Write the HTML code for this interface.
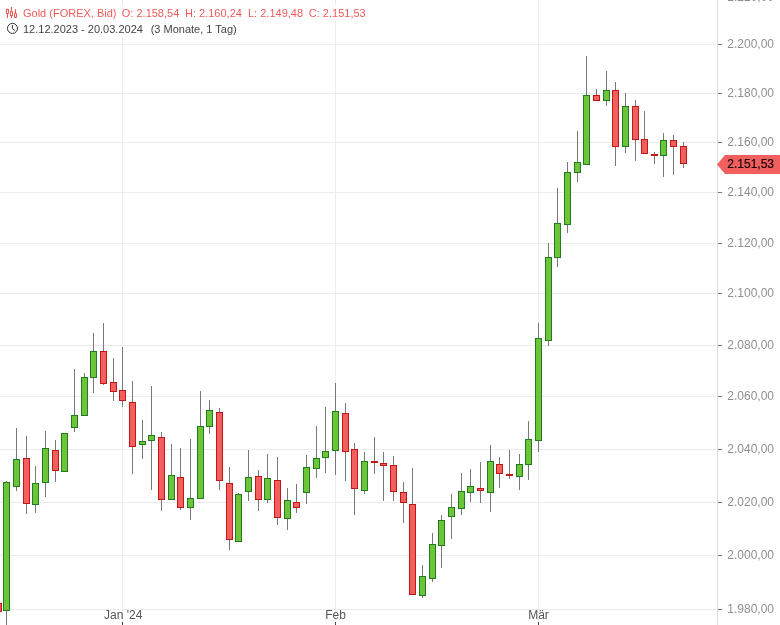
<!DOCTYPE html>
<html><head><meta charset="utf-8"><title>Gold (FOREX, Bid)</title>
<style>
html,body{margin:0;padding:0;background:#fff;}
body{width:780px;height:625px;position:relative;overflow:hidden;font-family:"Liberation Sans",Arial,sans-serif;}
.yl{position:absolute;left:727.3px;font-size:12px;line-height:14px;height:14px;color:#8f8f8f;white-space:nowrap;}
.xl{position:absolute;top:608px;width:81px;text-align:center;font-size:12px;line-height:14px;color:#555;white-space:nowrap;}
.t1{position:absolute;top:7px;font-size:11px;line-height:13px;color:#f25a5a;white-space:pre;}
.t2{position:absolute;top:23px;font-size:11px;line-height:13px;color:#444;white-space:pre;}
.tag{position:absolute;left:727.3px;top:157px;font-size:12px;line-height:14px;color:#1a0808;-webkit-text-stroke:0.22px #1a0808;white-space:nowrap;}
</style></head><body>
<svg width="780" height="625" viewBox="0 0 780 625" shape-rendering="crispEdges" style="position:absolute;left:0;top:0">
<rect x="0" y="44" width="717" height="1" fill="#ececec"/>
<rect x="0" y="93" width="717" height="1" fill="#ececec"/>
<rect x="0" y="142" width="717" height="1" fill="#ececec"/>
<rect x="0" y="192" width="717" height="1" fill="#ececec"/>
<rect x="0" y="243" width="717" height="1" fill="#ececec"/>
<rect x="0" y="293" width="717" height="1" fill="#ececec"/>
<rect x="0" y="345" width="717" height="1" fill="#ececec"/>
<rect x="0" y="396" width="717" height="1" fill="#ececec"/>
<rect x="0" y="449" width="717" height="1" fill="#ececec"/>
<rect x="0" y="502" width="717" height="1" fill="#ececec"/>
<rect x="0" y="555" width="717" height="1" fill="#ececec"/>
<rect x="0" y="609" width="717" height="1" fill="#ececec"/>
<rect x="122" y="0" width="1" height="622" fill="#ececec"/>
<rect x="335" y="0" width="1" height="622" fill="#ececec"/>
<rect x="538" y="0" width="1" height="622" fill="#ececec"/>
<rect x="717" y="0" width="1" height="625" fill="#dcdcdc"/>
<rect x="718" y="44" width="4" height="1" fill="#777"/>
<rect x="718" y="93" width="4" height="1" fill="#777"/>
<rect x="718" y="142" width="4" height="1" fill="#777"/>
<rect x="718" y="192" width="4" height="1" fill="#777"/>
<rect x="718" y="243" width="4" height="1" fill="#777"/>
<rect x="718" y="293" width="4" height="1" fill="#777"/>
<rect x="718" y="345" width="4" height="1" fill="#777"/>
<rect x="718" y="396" width="4" height="1" fill="#777"/>
<rect x="718" y="449" width="4" height="1" fill="#777"/>
<rect x="718" y="502" width="4" height="1" fill="#777"/>
<rect x="718" y="555" width="4" height="1" fill="#777"/>
<rect x="718" y="609" width="4" height="1" fill="#777"/>
<rect x="122" y="622" width="1" height="3" fill="#444"/>
<rect x="335" y="622" width="1" height="3" fill="#444"/>
<rect x="538" y="622" width="1" height="3" fill="#444"/>
<rect x="-2" y="603" width="1" height="9" fill="#787878"/>
<rect x="-5" y="603" width="7" height="9" fill="#c51616"/>
<rect x="-4" y="604" width="5" height="7" fill="#f15f5f"/>
<rect x="6" y="481" width="1" height="144" fill="#787878"/>
<rect x="3" y="482" width="7" height="129" fill="#1f7d1f"/>
<rect x="4" y="483" width="5" height="127" fill="#6dc438"/>
<rect x="16" y="428" width="1" height="63" fill="#787878"/>
<rect x="13" y="459" width="7" height="28" fill="#1f7d1f"/>
<rect x="14" y="460" width="5" height="26" fill="#6dc438"/>
<rect x="26" y="436" width="1" height="78" fill="#787878"/>
<rect x="23" y="458" width="7" height="46" fill="#c51616"/>
<rect x="24" y="459" width="5" height="44" fill="#f15f5f"/>
<rect x="35" y="466" width="1" height="47" fill="#787878"/>
<rect x="32" y="483" width="7" height="22" fill="#1f7d1f"/>
<rect x="33" y="484" width="5" height="20" fill="#6dc438"/>
<rect x="45" y="431" width="1" height="66" fill="#787878"/>
<rect x="42" y="448" width="7" height="35" fill="#1f7d1f"/>
<rect x="43" y="449" width="5" height="33" fill="#6dc438"/>
<rect x="55" y="440" width="1" height="42" fill="#787878"/>
<rect x="52" y="450" width="7" height="21" fill="#c51616"/>
<rect x="53" y="451" width="5" height="19" fill="#f15f5f"/>
<rect x="64" y="433" width="1" height="39" fill="#787878"/>
<rect x="61" y="433" width="7" height="39" fill="#1f7d1f"/>
<rect x="62" y="434" width="5" height="37" fill="#6dc438"/>
<rect x="74" y="369" width="1" height="63" fill="#787878"/>
<rect x="71" y="415" width="7" height="13" fill="#1f7d1f"/>
<rect x="72" y="416" width="5" height="11" fill="#6dc438"/>
<rect x="84" y="373" width="1" height="43" fill="#787878"/>
<rect x="81" y="377" width="7" height="39" fill="#1f7d1f"/>
<rect x="82" y="378" width="5" height="37" fill="#6dc438"/>
<rect x="93" y="333" width="1" height="60" fill="#787878"/>
<rect x="90" y="351" width="7" height="27" fill="#1f7d1f"/>
<rect x="91" y="352" width="5" height="25" fill="#6dc438"/>
<rect x="103" y="323" width="1" height="62" fill="#787878"/>
<rect x="100" y="351" width="7" height="33" fill="#c51616"/>
<rect x="101" y="352" width="5" height="31" fill="#f15f5f"/>
<rect x="113" y="358" width="1" height="43" fill="#787878"/>
<rect x="110" y="382" width="7" height="10" fill="#c51616"/>
<rect x="111" y="383" width="5" height="8" fill="#f15f5f"/>
<rect x="122" y="347" width="1" height="60" fill="#787878"/>
<rect x="119" y="390" width="7" height="11" fill="#c51616"/>
<rect x="120" y="391" width="5" height="9" fill="#f15f5f"/>
<rect x="132" y="381" width="1" height="93" fill="#787878"/>
<rect x="129" y="402" width="7" height="45" fill="#c51616"/>
<rect x="130" y="403" width="5" height="43" fill="#f15f5f"/>
<rect x="142" y="420" width="1" height="39" fill="#787878"/>
<rect x="139" y="441" width="7" height="4" fill="#1f7d1f"/>
<rect x="140" y="442" width="5" height="2" fill="#6dc438"/>
<rect x="151" y="386" width="1" height="104" fill="#787878"/>
<rect x="148" y="435" width="7" height="6" fill="#1f7d1f"/>
<rect x="149" y="436" width="5" height="4" fill="#6dc438"/>
<rect x="161" y="432" width="1" height="79" fill="#787878"/>
<rect x="158" y="437" width="7" height="63" fill="#c51616"/>
<rect x="159" y="438" width="5" height="61" fill="#f15f5f"/>
<rect x="171" y="444" width="1" height="56" fill="#787878"/>
<rect x="168" y="475" width="7" height="25" fill="#1f7d1f"/>
<rect x="169" y="476" width="5" height="23" fill="#6dc438"/>
<rect x="180" y="448" width="1" height="62" fill="#787878"/>
<rect x="177" y="477" width="7" height="31" fill="#c51616"/>
<rect x="178" y="478" width="5" height="29" fill="#f15f5f"/>
<rect x="190" y="439" width="1" height="81" fill="#787878"/>
<rect x="187" y="498" width="7" height="10" fill="#1f7d1f"/>
<rect x="188" y="499" width="5" height="8" fill="#6dc438"/>
<rect x="200" y="391" width="1" height="108" fill="#787878"/>
<rect x="197" y="426" width="7" height="73" fill="#1f7d1f"/>
<rect x="198" y="427" width="5" height="71" fill="#6dc438"/>
<rect x="209" y="400" width="1" height="34" fill="#787878"/>
<rect x="206" y="410" width="7" height="17" fill="#1f7d1f"/>
<rect x="207" y="411" width="5" height="15" fill="#6dc438"/>
<rect x="219" y="408" width="1" height="82" fill="#787878"/>
<rect x="216" y="412" width="7" height="69" fill="#c51616"/>
<rect x="217" y="413" width="5" height="67" fill="#f15f5f"/>
<rect x="229" y="467" width="1" height="83" fill="#787878"/>
<rect x="226" y="483" width="7" height="57" fill="#c51616"/>
<rect x="227" y="484" width="5" height="55" fill="#f15f5f"/>
<rect x="238" y="493" width="1" height="49" fill="#787878"/>
<rect x="235" y="494" width="7" height="48" fill="#1f7d1f"/>
<rect x="236" y="495" width="5" height="46" fill="#6dc438"/>
<rect x="248" y="450" width="1" height="51" fill="#787878"/>
<rect x="245" y="477" width="7" height="15" fill="#1f7d1f"/>
<rect x="246" y="478" width="5" height="13" fill="#6dc438"/>
<rect x="258" y="470" width="1" height="41" fill="#787878"/>
<rect x="255" y="476" width="7" height="24" fill="#c51616"/>
<rect x="256" y="477" width="5" height="22" fill="#f15f5f"/>
<rect x="267" y="454" width="1" height="49" fill="#787878"/>
<rect x="264" y="478" width="7" height="22" fill="#1f7d1f"/>
<rect x="265" y="479" width="5" height="20" fill="#6dc438"/>
<rect x="277" y="457" width="1" height="68" fill="#787878"/>
<rect x="274" y="480" width="7" height="38" fill="#c51616"/>
<rect x="275" y="481" width="5" height="36" fill="#f15f5f"/>
<rect x="287" y="488" width="1" height="42" fill="#787878"/>
<rect x="284" y="500" width="7" height="19" fill="#1f7d1f"/>
<rect x="285" y="501" width="5" height="17" fill="#6dc438"/>
<rect x="296" y="484" width="1" height="29" fill="#787878"/>
<rect x="293" y="502" width="7" height="6" fill="#c51616"/>
<rect x="294" y="503" width="5" height="4" fill="#f15f5f"/>
<rect x="306" y="455" width="1" height="49" fill="#787878"/>
<rect x="303" y="467" width="7" height="26" fill="#1f7d1f"/>
<rect x="304" y="468" width="5" height="24" fill="#6dc438"/>
<rect x="316" y="426" width="1" height="52" fill="#787878"/>
<rect x="313" y="458" width="7" height="11" fill="#1f7d1f"/>
<rect x="314" y="459" width="5" height="9" fill="#6dc438"/>
<rect x="325" y="407" width="1" height="66" fill="#787878"/>
<rect x="322" y="451" width="7" height="7" fill="#1f7d1f"/>
<rect x="323" y="452" width="5" height="5" fill="#6dc438"/>
<rect x="335" y="383" width="1" height="92" fill="#787878"/>
<rect x="332" y="411" width="7" height="40" fill="#1f7d1f"/>
<rect x="333" y="412" width="5" height="38" fill="#6dc438"/>
<rect x="345" y="403" width="1" height="78" fill="#787878"/>
<rect x="342" y="413" width="7" height="39" fill="#c51616"/>
<rect x="343" y="414" width="5" height="37" fill="#f15f5f"/>
<rect x="354" y="443" width="1" height="72" fill="#787878"/>
<rect x="351" y="449" width="7" height="40" fill="#c51616"/>
<rect x="352" y="450" width="5" height="38" fill="#f15f5f"/>
<rect x="364" y="452" width="1" height="42" fill="#787878"/>
<rect x="361" y="461" width="7" height="30" fill="#1f7d1f"/>
<rect x="362" y="462" width="5" height="28" fill="#6dc438"/>
<rect x="374" y="437" width="1" height="37" fill="#787878"/>
<rect x="371" y="461" width="7" height="2" fill="#c51616"/>
<rect x="383" y="452" width="1" height="49" fill="#787878"/>
<rect x="380" y="463" width="7" height="3" fill="#c51616"/>
<rect x="381" y="464" width="5" height="1" fill="#f15f5f"/>
<rect x="393" y="456" width="1" height="45" fill="#787878"/>
<rect x="390" y="465" width="7" height="27" fill="#c51616"/>
<rect x="391" y="466" width="5" height="25" fill="#f15f5f"/>
<rect x="403" y="482" width="1" height="41" fill="#787878"/>
<rect x="400" y="492" width="7" height="11" fill="#c51616"/>
<rect x="401" y="493" width="5" height="9" fill="#f15f5f"/>
<rect x="412" y="468" width="1" height="127" fill="#787878"/>
<rect x="409" y="504" width="7" height="91" fill="#c51616"/>
<rect x="410" y="505" width="5" height="89" fill="#f15f5f"/>
<rect x="422" y="565" width="1" height="33" fill="#787878"/>
<rect x="419" y="576" width="7" height="20" fill="#1f7d1f"/>
<rect x="420" y="577" width="5" height="18" fill="#6dc438"/>
<rect x="432" y="533" width="1" height="49" fill="#787878"/>
<rect x="429" y="544" width="7" height="35" fill="#1f7d1f"/>
<rect x="430" y="545" width="5" height="33" fill="#6dc438"/>
<rect x="441" y="515" width="1" height="53" fill="#787878"/>
<rect x="438" y="520" width="7" height="26" fill="#1f7d1f"/>
<rect x="439" y="521" width="5" height="24" fill="#6dc438"/>
<rect x="451" y="494" width="1" height="45" fill="#787878"/>
<rect x="448" y="507" width="7" height="10" fill="#1f7d1f"/>
<rect x="449" y="508" width="5" height="8" fill="#6dc438"/>
<rect x="461" y="473" width="1" height="42" fill="#787878"/>
<rect x="458" y="491" width="7" height="18" fill="#1f7d1f"/>
<rect x="459" y="492" width="5" height="16" fill="#6dc438"/>
<rect x="470" y="469" width="1" height="33" fill="#787878"/>
<rect x="467" y="486" width="7" height="7" fill="#1f7d1f"/>
<rect x="468" y="487" width="5" height="5" fill="#6dc438"/>
<rect x="480" y="462" width="1" height="41" fill="#787878"/>
<rect x="477" y="488" width="7" height="3" fill="#c51616"/>
<rect x="478" y="489" width="5" height="1" fill="#f15f5f"/>
<rect x="490" y="445" width="1" height="67" fill="#787878"/>
<rect x="487" y="461" width="7" height="32" fill="#1f7d1f"/>
<rect x="488" y="462" width="5" height="30" fill="#6dc438"/>
<rect x="499" y="457" width="1" height="31" fill="#787878"/>
<rect x="496" y="464" width="7" height="10" fill="#c51616"/>
<rect x="497" y="465" width="5" height="8" fill="#f15f5f"/>
<rect x="509" y="450" width="1" height="29" fill="#787878"/>
<rect x="506" y="474" width="7" height="2" fill="#c51616"/>
<rect x="519" y="454" width="1" height="36" fill="#787878"/>
<rect x="516" y="464" width="7" height="13" fill="#1f7d1f"/>
<rect x="517" y="465" width="5" height="11" fill="#6dc438"/>
<rect x="528" y="421" width="1" height="59" fill="#787878"/>
<rect x="525" y="439" width="7" height="26" fill="#1f7d1f"/>
<rect x="526" y="440" width="5" height="24" fill="#6dc438"/>
<rect x="538" y="323" width="1" height="129" fill="#787878"/>
<rect x="535" y="338" width="7" height="103" fill="#1f7d1f"/>
<rect x="536" y="339" width="5" height="101" fill="#6dc438"/>
<rect x="548" y="243" width="1" height="103" fill="#787878"/>
<rect x="545" y="257" width="7" height="84" fill="#1f7d1f"/>
<rect x="546" y="258" width="5" height="82" fill="#6dc438"/>
<rect x="557" y="188" width="1" height="79" fill="#787878"/>
<rect x="554" y="223" width="7" height="35" fill="#1f7d1f"/>
<rect x="555" y="224" width="5" height="33" fill="#6dc438"/>
<rect x="567" y="162" width="1" height="71" fill="#787878"/>
<rect x="564" y="172" width="7" height="53" fill="#1f7d1f"/>
<rect x="565" y="173" width="5" height="51" fill="#6dc438"/>
<rect x="577" y="131" width="1" height="51" fill="#787878"/>
<rect x="574" y="162" width="7" height="11" fill="#1f7d1f"/>
<rect x="575" y="163" width="5" height="9" fill="#6dc438"/>
<rect x="586" y="56" width="1" height="109" fill="#787878"/>
<rect x="583" y="95" width="7" height="70" fill="#1f7d1f"/>
<rect x="584" y="96" width="5" height="68" fill="#6dc438"/>
<rect x="596" y="89" width="1" height="12" fill="#787878"/>
<rect x="593" y="95" width="7" height="6" fill="#c51616"/>
<rect x="594" y="96" width="5" height="4" fill="#f15f5f"/>
<rect x="606" y="71" width="1" height="35" fill="#787878"/>
<rect x="603" y="90" width="7" height="11" fill="#1f7d1f"/>
<rect x="604" y="91" width="5" height="9" fill="#6dc438"/>
<rect x="615" y="82" width="1" height="84" fill="#787878"/>
<rect x="612" y="90" width="7" height="57" fill="#c51616"/>
<rect x="613" y="91" width="5" height="55" fill="#f15f5f"/>
<rect x="625" y="93" width="1" height="60" fill="#787878"/>
<rect x="622" y="106" width="7" height="41" fill="#1f7d1f"/>
<rect x="623" y="107" width="5" height="39" fill="#6dc438"/>
<rect x="635" y="100" width="1" height="61" fill="#787878"/>
<rect x="632" y="106" width="7" height="34" fill="#c51616"/>
<rect x="633" y="107" width="5" height="32" fill="#f15f5f"/>
<rect x="644" y="111" width="1" height="43" fill="#787878"/>
<rect x="641" y="139" width="7" height="15" fill="#c51616"/>
<rect x="642" y="140" width="5" height="13" fill="#f15f5f"/>
<rect x="654" y="152" width="1" height="12" fill="#787878"/>
<rect x="651" y="154" width="7" height="2" fill="#c51616"/>
<rect x="663" y="133" width="1" height="44" fill="#787878"/>
<rect x="660" y="140" width="7" height="16" fill="#1f7d1f"/>
<rect x="661" y="141" width="5" height="14" fill="#6dc438"/>
<rect x="673" y="135" width="1" height="40" fill="#787878"/>
<rect x="670" y="140" width="7" height="7" fill="#c51616"/>
<rect x="671" y="141" width="5" height="5" fill="#f15f5f"/>
<rect x="683" y="142" width="1" height="26" fill="#787878"/>
<rect x="680" y="146" width="7" height="18" fill="#c51616"/>
<rect x="681" y="147" width="5" height="16" fill="#f15f5f"/>
</svg>
<svg width="780" height="625" viewBox="0 0 780 625" style="position:absolute;left:0;top:0">
<rect x="3" y="5" width="366" height="15.6" fill="#fff" fill-opacity="0.88"/><rect x="3" y="21.4" width="236" height="15.6" fill="#fff" fill-opacity="0.88"/>
<polygon points="717,164.5 725,155 780,155 780,174 725,174" fill="#f25f5f"/>
<g fill="none" stroke="#f25a5a" stroke-width="1.1">
<path d="M7.45 13.5V17.9M11.45 7.1V11.3M11.45 15.6V17.9M15.45 9.2V13.5"/>
<rect x="6.45" y="9.4" width="2" height="4.1" rx="0.4"/><rect x="10.45" y="11.3" width="2" height="4.3" rx="0.4"/><rect x="14.45" y="13.5" width="2" height="3.9" rx="0.4"/>
</g>
<g fill="none" stroke="#333" stroke-width="1" stroke-linecap="round" stroke-linejoin="round">
<circle cx="12.5" cy="28.4" r="5.05"/><path d="M12.4 25.4V28.6L14.6 30.3"/>
</g>
</svg>
<div class="t1" style="left:23px">Gold (FOREX, Bid)</div>
<div class="t1" style="left:121.8px">O: 2.158,54</div>
<div class="t1" style="left:185px">H: 2.160,24</div>
<div class="t1" style="left:248px">L: 2.149,48</div>
<div class="t1" style="left:308.8px">C: 2.151,53</div>
<div class="t2" style="left:23px">12.12.2023 - 20.03.2024</div>
<div class="t2" style="left:150.7px">(3 Monate, 1 Tag)</div>
<div class="yl" style="top:37px">2.200,00</div><div class="yl" style="top:86px">2.180,00</div><div class="yl" style="top:135px">2.160,00</div><div class="yl" style="top:185px">2.140,00</div><div class="yl" style="top:236px">2.120,00</div><div class="yl" style="top:286px">2.100,00</div><div class="yl" style="top:338px">2.080,00</div><div class="yl" style="top:389px">2.060,00</div><div class="yl" style="top:442px">2.040,00</div><div class="yl" style="top:495px">2.020,00</div><div class="yl" style="top:548px">2.000,00</div><div class="yl" style="top:602px">1.980,00</div><div class="yl" style="top:-10px">2.220,00</div><div class="xl" style="left:82.7px">Jan '24</div><div class="xl" style="left:295px">Feb</div><div class="xl" style="left:498px">Mär</div>
<div class="tag">2.151,53</div>
</body></html>
